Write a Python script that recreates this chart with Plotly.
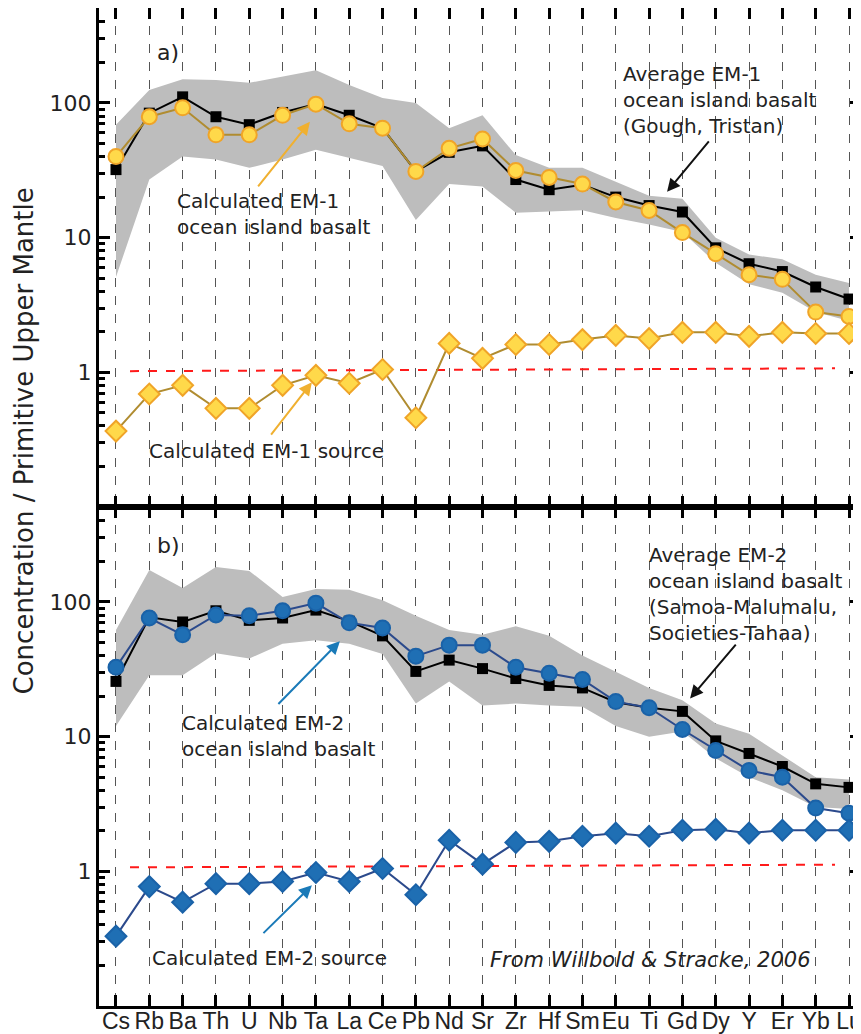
import plotly.graph_objects as go
from plotly.subplots import make_subplots

# element order along the x axis
elements = ["Cs", "Rb", "Ba", "Th", "U", "Nb", "Ta", "La", "Ce", "Pb", "Nd", "Sr",
            "Zr", "Hf", "Sm", "Eu", "Ti", "Gd", "Dy", "Y", "Er", "Yb", "Lu"]

# panel a) EM-1
em1_avg = [32, 84, 111, 79, 69, 85, 98, 81, 65, 31, 43, 48, 27, 22.7, 24.7, 20, 17.3,
           15.5, 8.4, 6.4, 5.6, 4.3, 3.5]
em1_calc = [40, 79, 92, 58, 58, 81, 98, 70, 65, 31, 46, 54, 31.5, 28, 25, 18.4, 15.9,
            10.9, 7.6, 5.3, 4.9, 2.8, 2.6]
em1_src = [0.366, 0.69, 0.80, 0.54, 0.54, 0.80, 0.95, 0.83, 1.05, 0.46, 1.64, 1.27,
           1.61, 1.61, 1.75, 1.88, 1.78, 1.98, 1.98, 1.85, 1.98, 1.94, 1.94]
em1_hi = [69, 125, 150, 148, 141, 158, 175, 136, 109, 100, 65, 81, 41, 33, 33, 26, 20.5,
          19.4, 10, 7.5, 6.9, 5.3, 4.6]
em1_lo = [5.1, 27, 40, 38, 33, 38, 45, 39, 34, 13.5, 25, 24, 15.3, 15.6, 16, 14, 12.5,
          11, 6.5, 4.5, 3.9, 2.8, 2.4]

# panel b) EM-2
em2_avg = [25.7, 77, 71, 86, 73, 76, 87, 72, 56, 30.5, 37, 32, 27, 24, 23, 18, 16.4,
           15.4, 9.3, 7.5, 6.0, 4.46, 4.2]
em2_calc = [32.7, 76, 57, 80, 79, 86, 98, 70, 64, 39.6, 47.8, 47.8, 32.7, 29.5, 26.6,
            18.2, 16.4, 11.3, 7.9, 5.6, 5.0, 2.95, 2.7]
em2_src = [0.33, 0.77, 0.59, 0.81, 0.81, 0.84, 0.98, 0.84, 1.05, 0.67, 1.7, 1.13, 1.64,
           1.67, 1.82, 1.92, 1.82, 2.02, 2.05, 1.92, 2.02, 2.02, 2.02]
em2_hi = [62, 173, 127, 182, 170, 109, 125, 123, 103, 79, 62, 57, 66, 56, 40, 30.5, 23,
          18.6, 12.5, 10.5, 7.2, 5.0, 4.8]
em2_lo = [12, 28.5, 28.5, 41.6, 38, 49, 52, 49, 41, 17.6, 25.7, 17, 17.6, 17, 16.7, 12,
          10, 10.9, 6.9, 5.0, 4.0, 3.0, 2.9]

# red dashed "primitive mantle = 1" guide lines
ref_x = [0.42, 21.58]
ref_y_a = [1.02, 1.07]
ref_y_b = [1.07, 1.12]

xs = list(range(len(elements)))
FONT = "DejaVu Sans"
TXT = "#222222"

fig = make_subplots(rows=2, cols=1, shared_xaxes=True, vertical_spacing=0)


def add_panel(row, lo, hi, avg, calc, src, ref_y, fill, edge, line):
    # grey envelope
    fig.add_trace(go.Scatter(x=xs, y=lo, mode="lines", line=dict(width=0, color="#bdbdbd"),
                             hoverinfo="skip"), row=row, col=1)
    fig.add_trace(go.Scatter(x=xs, y=hi, mode="lines", line=dict(width=0, color="#bdbdbd"),
                             fill="tonexty", fillcolor="#bdbdbd", hoverinfo="skip"),
                  row=row, col=1)
    fig.add_trace(go.Scatter(x=ref_x, y=ref_y, mode="lines",
                             line=dict(color="#ff1a1a", width=2, dash="dash")), row=row, col=1)
    fig.add_trace(go.Scatter(x=xs, y=avg, mode="lines+markers",
                             line=dict(color="black", width=2),
                             marker=dict(symbol="square", size=11, color="black")),
                  row=row, col=1)
    fig.add_trace(go.Scatter(x=xs, y=calc, mode="lines+markers",
                             line=dict(color=line, width=2),
                             marker=dict(symbol="circle", size=15, color=fill,
                                         line=dict(color=edge, width=2))),
                  row=row, col=1)
    fig.add_trace(go.Scatter(x=xs, y=src, mode="lines+markers",
                             line=dict(color=line, width=2),
                             marker=dict(symbol="diamond", size=16, color=fill,
                                         line=dict(color=edge, width=2))),
                  row=row, col=1)


add_panel(1, em1_lo, em1_hi, em1_avg, em1_calc, em1_src, ref_y_a,
          "#ffd94a", "#f0a428", "#b08c30")
add_panel(2, em2_lo, em2_hi, em2_avg, em2_calc, em2_src, ref_y_b,
          "#1f6fb4", "#1a62a8", "#2b4a8c")

minor_vals = [m * 10 ** e for e in range(-1, 3) for m in range(2, 10)]

xaxis_style = dict(range=[-0.51, 22.36], tickmode="array", tickvals=xs, ticktext=elements,
                   tickangle=0, automargin=False, ticklabelstandoff=-8,
                   ticklabeloverflow="allow",
                   showgrid=True, gridcolor="#555555", griddash="dash", gridwidth=1,
                   ticks="inside", ticklen=11, tickwidth=3, tickcolor="black",
                   showline=True, linewidth=3, linecolor="black", mirror="allticks",
                   zeroline=False,
                   tickfont=dict(family="Liberation Sans", size=23, color=TXT))
yaxis_style = dict(type="log", range=[-1, 2.705], tickmode="array",
                   tickvals=[0.1, 1, 10, 100], ticktext=["", "1", "10", "100"],
                   automargin=False,
                   ticks="inside", ticklen=11, tickwidth=3, tickcolor="black",
                   minor=dict(tickmode="array", tickvals=minor_vals, ticks="inside",
                              ticklen=6, tickwidth=2.5, tickcolor="black"),
                   showline=True, linewidth=3, linecolor="black", mirror="allticks",
                   showgrid=False, zeroline=False,
                   tickfont=dict(family=FONT, size=22, color=TXT))

fig.update_xaxes(**xaxis_style)
fig.update_xaxes(showticklabels=False, row=1, col=1)
fig.update_yaxes(**yaxis_style)


def note(text, x, y, yref, size=20, italic=False):
    fig.add_annotation(text=text, x=x, y=y, xref="x", yref=yref, xanchor="left",
                       yanchor="middle", align="left", showarrow=False,
                       font=dict(family=FONT, size=size, color=TXT,
                                 style="italic" if italic else "normal"))


def arrow(x, y, ax, ay, xref, yref, color):
    fig.add_annotation(x=x, y=y, ax=ax, ay=ay, xref=xref, yref=yref, axref=xref,
                       ayref=yref, text="", showarrow=True, arrowhead=2, arrowsize=1.3,
                       arrowwidth=2, arrowcolor=color, standoff=0)


# panel a) labels
note("a)", 1.17, 2.378, "y", size=22)
note("Calculated EM-1<br>ocean island basalt", 1.77, 1.178, "y")
note("Average EM-1<br>ocean island basalt<br>(Gough, Tristan)", 15.15, 2.02, "y")
note("Calculated EM-1 source", 0.93, -0.585, "y")
arrow(5.82, 1.86, 4.23, 1.37, "x", "y", "#f0b030")
arrow(16.54, 1.34, 17.83, 1.726, "x", "y", "#111111")
arrow(5.88, -0.074, 4.62, -0.474, "x", "y", "#f0b030")

# panel b) labels
note("b)", 1.17, 2.418, "y2", size=22)
note("Calculated EM-2<br>ocean island basalt", 1.92, 1.007, "y2")
note("Average EM-2<br>ocean island basalt<br>(Samoa-Malumalu,<br>Societies-Tahaa)",
     15.95, 2.06, "y2")
note("Calculated EM-2 source", 1.02, -0.642, "y2")
note("From Willbold & Stracke, 2006", 11.16, -0.657, "y2", size=21, italic=True)
arrow(6.72, 1.709, 4.83, 1.231, "x2", "y2", "#1a7ab8")
arrow(17.23, 1.284, 18.64, 1.694, "x2", "y2", "#111111")
arrow(5.88, -0.104, 4.38, -0.47, "x2", "y2", "#1a7ab8")

fig.add_annotation(text="Concentration / Primitive Upper Mantle", xref="paper",
                   yref="paper", x=-0.098, y=0.566, xanchor="center", yanchor="middle",
                   textangle=-90, showarrow=False,
                   font=dict(family=FONT, size=26, color=TXT))

# page body adds an 8px offset, so the figure is a little smaller than the window
fig.update_layout(width=853, height=1026, showlegend=False,
                  margin=dict(l=91, r=0, t=0, b=28, autoexpand=False),
                  plot_bgcolor="white", paper_bgcolor="white")

fig.write_html("out.html")
